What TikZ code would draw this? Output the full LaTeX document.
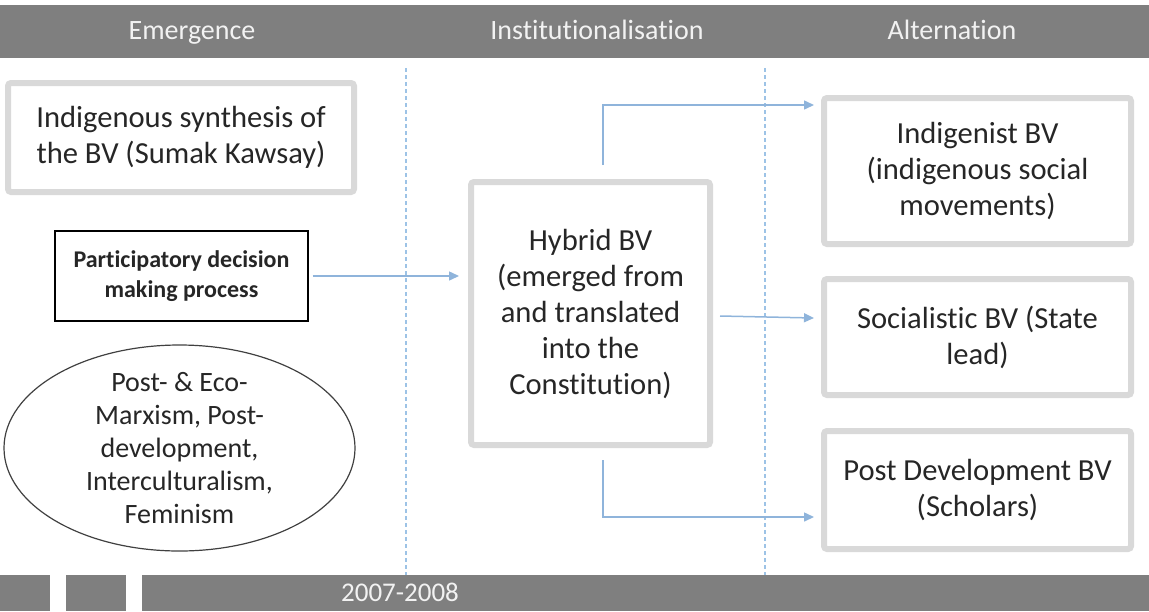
\documentclass[tikz,border=0pt]{standalone}
\usepackage{fontspec}
\setmainfont[Ligatures=NoCommon]{Carlito}
\usetikzlibrary{arrows.meta,shapes.geometric}
\definecolor{barg}{HTML}{7F7F7F}
\definecolor{frameg}{HTML}{D9D9D9}
\definecolor{linkb}{HTML}{8FB4DB}
\definecolor{gridb}{HTML}{9DC3E6}
\definecolor{inkg}{HTML}{262626}
\tikzset{
  gbox/.style    ={draw=frameg,line width=3pt,rounded corners=1.5pt,align=center,inner sep=0pt,
                   font=\fontsize{15.3}{18}\selectfont,text=inkg},
  pbox/.style    ={draw=black,line width=.6pt,align=center,inner sep=0pt,
                   font=\fontsize{12}{15}\selectfont\bfseries,text=inkg},
  theo/.style    ={draw=black!75,line width=.6pt,ellipse,inner sep=0pt},
  thtxt/.style   ={font=\fontsize{14}{16.5}\selectfont,text=inkg,align=center,inner sep=0pt},
  phasetxt/.style={font=\fontsize{14}{15}\selectfont,text=black!5,anchor=base},
  yrtxt/.style   ={font=\fontsize{13.5}{15}\selectfont,text=black!5,anchor=base},
  arr/.style     ={-{Triangle[length=5pt,width=4.5pt]},line width=.75pt,draw=linkb},
  phline/.style  ={draw=gridb,line width=.6pt,dash pattern=on 2pt off 1.5pt},
}

\begin{document}
\begin{tikzpicture}[x=0.5pt,y=-0.5pt]
  \useasboundingbox (0,0) rectangle (1149,611);

  % ---------- top band: phases ----------
  \fill[barg] (0,5) rectangle (1149,58);
  \node[phasetxt] (ph1) at (192,39) {Emergence};
  \node[phasetxt] (ph2) at (597,39) {Institutionalisation};
  \node[phasetxt] (ph3) at (952,39) {Alternation};

  % ---------- phase separators ----------
  \draw[phline] (406,68) -- (406,575);
  \draw[phline] (765,68) -- (765,575);

  % ---------- emergence ----------
  \node[gbox,minimum width=173pt,minimum height=54.5pt] (ind) at (181,137.5)
    {Indigenous synthesis of\\the BV (Sumak Kawsay)};
  \node[pbox,minimum width=126.5pt,minimum height=45pt] (part) at (181.5,276)
    {Participatory decision\\making process};
  \node[theo,minimum width=175.5pt,minimum height=103pt,
        label={[thtxt]center:{Post- \& Eco-\\Marxism, Post-\\development,\\Interculturalism,\\Feminism}}]
    (theo) at (179.5,448) {};

  % ---------- institutionalisation ----------
  \node[gbox,minimum width=119.5pt,minimum height=131.5pt] (hyb) at (590.5,313.5)
    {Hybrid BV\\(emerged from\\and translated\\into the\\Constitution)};

  % ---------- alternation ----------
  \node[gbox,minimum width=153.5pt,minimum height=73pt] (indg) at (977.5,171)
    {Indigenist BV\\(indigenous social\\movements)};
  \node[gbox,minimum width=153.5pt,minimum height=58pt] (soc) at (977.5,337)
    {Socialistic BV (State\\lead)};
  \node[gbox,minimum width=153.5pt,minimum height=59pt] (pdev) at (977.5,490)
    {Post Development BV\\(Scholars)};

  % ---------- arrows ----------
  \draw[arr] ([xshift=2pt]part.east) -- ([xshift=-4.5pt]part.east -| hyb.west);
  \draw[arr] ([xshift=6.25pt,yshift=7pt]hyb.north) |- ([xshift=-3.5pt,yshift=-5pt]indg.north west);
  \draw[arr] ([xshift=3.5pt,yshift=-1.25pt]hyb.east) -- ([xshift=-3.5pt,yshift=9.5pt]soc.west);
  \draw[arr] ([xshift=6.25pt,yshift=-6pt]hyb.south) |- ([xshift=-3.5pt,yshift=-13.5pt]pdev.west);

  % ---------- bottom band: years ----------
  \fill[barg] (0,575) rectangle (50,611);
  \fill[barg] (66,575) rectangle (126,611);
  \fill[barg] (142,575) rectangle (1149,611);
  \node[yrtxt] (yr) at (400,601) {2007-2008};

\end{tikzpicture}
\end{document}
